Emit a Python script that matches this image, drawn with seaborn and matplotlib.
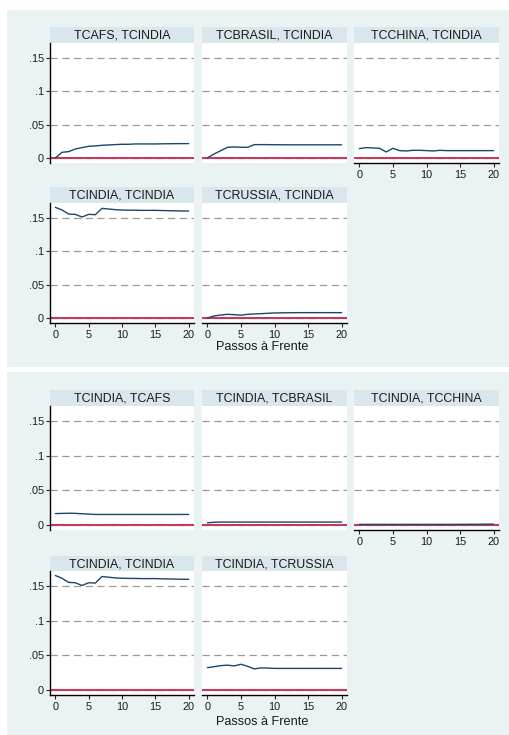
import matplotlib
matplotlib.use("Agg")
import matplotlib.pyplot as plt
from matplotlib.patches import Rectangle
import seaborn as sns
import pandas as pd

sns.set_style("white")
plt.rcParams["font.family"] = ["Liberation Sans", "DejaVu Sans"]

# Forecast horizon (steps ahead)
steps = list(range(21))

# Block 1: share of TCINDIA forecast-error variance explained by each impulse
tcafs_tcindia = [0.0, 0.0085, 0.0095, 0.0135, 0.0155, 0.0175, 0.018, 0.019, 0.0195, 0.020, 0.0205,
                 0.0205, 0.021, 0.021, 0.021, 0.021, 0.0212, 0.0213, 0.0214, 0.0215, 0.0215]
tcbrasil_tcindia = [0.0, 0.006, 0.011, 0.016, 0.0165, 0.016, 0.016, 0.020, 0.020, 0.020, 0.0198,
                    0.0198, 0.0197, 0.0197, 0.0197, 0.0197, 0.0197, 0.0197, 0.0197, 0.0197, 0.0197]
tcchina_tcindia = [0.014, 0.0155, 0.015, 0.0145, 0.009, 0.0145, 0.011, 0.0105, 0.0115, 0.0115, 0.011,
                   0.0105, 0.0115, 0.011, 0.011, 0.011, 0.011, 0.011, 0.011, 0.011, 0.011]
tcindia_tcindia = [0.1655, 0.1615, 0.1555, 0.155, 0.151, 0.155, 0.1545, 0.164, 0.163, 0.162, 0.1615,
                   0.1613, 0.1612, 0.161, 0.161, 0.161, 0.1607, 0.1605, 0.1603, 0.160, 0.160]
tcrussia_tcindia = [0.0, 0.003, 0.0045, 0.0055, 0.005, 0.0042, 0.0055, 0.006, 0.0065, 0.007, 0.0075,
                    0.0077, 0.0078, 0.0079, 0.008, 0.008, 0.008, 0.008, 0.008, 0.008, 0.008]

# Block 2: TCINDIA as the impulse
tcindia_tcafs = [0.0163, 0.0165, 0.0168, 0.0166, 0.016, 0.0155, 0.015, 0.015, 0.015, 0.015, 0.015,
                 0.015, 0.015, 0.015, 0.015, 0.015, 0.015, 0.015, 0.015, 0.015, 0.015]
tcindia_tcbrasil = [0.003, 0.0037, 0.004, 0.004, 0.004, 0.004, 0.004, 0.004, 0.004, 0.004, 0.004,
                    0.004, 0.004, 0.004, 0.004, 0.004, 0.004, 0.004, 0.004, 0.004, 0.004]
tcindia_tcchina = [0.0006, 0.0006, 0.0006, 0.0006, 0.0006, 0.0006, 0.0006, 0.0006, 0.0006, 0.0006, 0.0006,
                   0.0006, 0.0006, 0.0006, 0.0006, 0.0007, 0.0007, 0.0008, 0.0008, 0.0009, 0.001]
tcindia_tcrussia = [0.032, 0.0335, 0.035, 0.0357, 0.0346, 0.037, 0.034, 0.0303, 0.0317, 0.0315, 0.031,
                    0.031, 0.031, 0.031, 0.031, 0.031, 0.031, 0.031, 0.031, 0.031, 0.031]

block1_titles = ["TCAFS, TCINDIA", "TCBRASIL, TCINDIA", "TCCHINA, TCINDIA",
                 "TCINDIA, TCINDIA", "TCRUSSIA, TCINDIA"]
block1_series = [tcafs_tcindia, tcbrasil_tcindia, tcchina_tcindia, tcindia_tcindia, tcrussia_tcindia]
block2_titles = ["TCINDIA, TCAFS", "TCINDIA, TCBRASIL", "TCINDIA, TCCHINA",
                 "TCINDIA, TCINDIA", "TCINDIA, TCRUSSIA"]
block2_series = [tcindia_tcafs, tcindia_tcbrasil, tcindia_tcchina, tcindia_tcindia, tcindia_tcrussia]

y_ticks = [0, 0.05, 0.1, 0.15]
y_ticklabels = ["0", ".05", ".1", ".15"]
x_ticks = [0, 5, 10, 15, 20]
x_title = "Passos à Frente"

BG = "#EAF2F3"
STRIP = "#D9E6EB"
LINE = "#1A476F"
ZERO = "#C33A5C"
TXT = "#1a1a1a"

W, H = 509, 735
fig = plt.figure(figsize=(W / 100, H / 100), dpi=100)
fig.patch.set_facecolor("white")


def frac(x0, top, x1, bottom):
    return [x0 / W, 1 - bottom / H, (x1 - x0) / W, (bottom - top) / H]


# graph backgrounds
for top, bottom in [(10, 367), (372, 735)]:
    fig.patches.append(Rectangle((7 / W, 1 - bottom / H), (W - 7) / W, (bottom - top) / H,
                                 transform=fig.transFigure, facecolor=BG, edgecolor="none",
                                 zorder=-10))

cols = [(50, 194), (202, 347), (354, 499)]
blocks = [
    dict(titles=block1_titles, series=block1_series,
         rows=[(27, 43, 163), (187, 203, 323)], xtitle_y=347),
    dict(titles=block2_titles, series=block2_series,
         rows=[(390, 406, 530), (556, 571, 695)], xtitle_y=722),
]

for blk in blocks:
    for i, (title, vals) in enumerate(zip(blk["titles"], blk["series"])):
        r, c = divmod(i, 3)
        htop, ptop, pbot = blk["rows"][r]
        x0, x1 = cols[c]

        hax = fig.add_axes(frac(x0, htop, x1, ptop))
        hax.set_zorder(1)
        hax.set_facecolor(STRIP)
        hax.set_xticks([])
        hax.set_yticks([])
        for s in hax.spines.values():
            s.set_visible(False)
        hax.text(0.5, 0.45, title, ha="center", va="center", fontsize=8.9, color=TXT,
                 transform=hax.transAxes)

        ax = fig.add_axes(frac(x0, ptop, x1, pbot))
        ax.set_zorder(1)
        ax.set_facecolor("white")
        ax.axhline(0, color=ZERO, lw=1.5, zorder=2)
        df = pd.DataFrame({"step": steps, "fevd": vals})
        sns.lineplot(data=df, x="step", y="fevd", ax=ax, color=LINE, lw=1.0, zorder=3)
        ax.set_xlim(-0.8, 20.8)
        ax.set_ylim(-0.0075, 0.172)
        ax.set_xlabel("")
        ax.set_ylabel("")
        ax.set_yticks(y_ticks)
        ax.set_xticks(x_ticks)
        ax.yaxis.grid(True, color="#9a9a9a", lw=0.9, linestyle=(0, (5.8, 3.6)))
        ax.xaxis.grid(False)
        ax.set_axisbelow(True)

        is_left = c == 0
        is_bottom = (r == 1) or (c == 2)
        for name, s in ax.spines.items():
            s.set_visible(False)
        if is_left:
            ax.spines["left"].set_visible(True)
            ax.spines["left"].set_color("black")
            ax.spines["left"].set_linewidth(1.0)
            ax.set_yticklabels(y_ticklabels)
            ax.tick_params(axis="y", left=True, labelleft=True, length=3, width=0.8,
                           pad=1.5, labelsize=7.8, labelcolor=TXT, direction="out")
        else:
            ax.tick_params(axis="y", left=False, labelleft=False)
        if is_bottom:
            ax.spines["bottom"].set_visible(True)
            ax.spines["bottom"].set_color("black")
            ax.spines["bottom"].set_linewidth(1.0)
            ax.tick_params(axis="x", bottom=True, labelbottom=True, length=3, width=0.8,
                           pad=2, labelsize=7.8, labelcolor=TXT, direction="out")
        else:
            ax.tick_params(axis="x", bottom=False, labelbottom=False)

    fig.text(262 / W, 1 - blk["xtitle_y"] / H, x_title, ha="center", va="center",
             fontsize=9.2, color=TXT)

fig.savefig("out.png", dpi=100)
